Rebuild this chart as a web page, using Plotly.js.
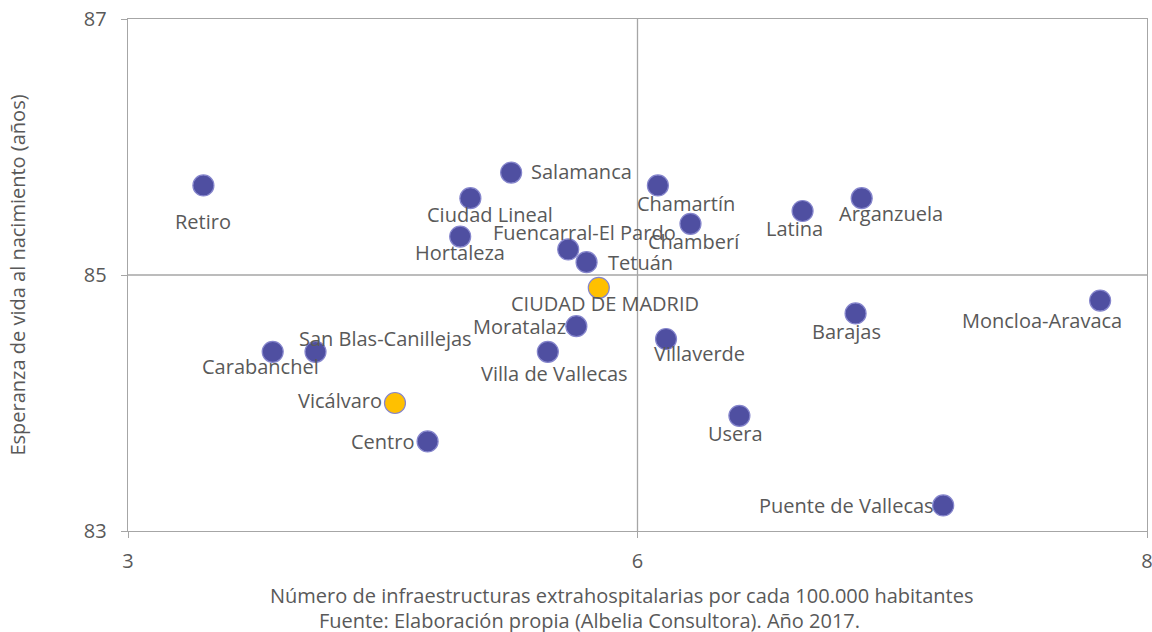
<!DOCTYPE html>
<html>
<head>
<meta charset="utf-8">
<script src="https://cdn.plot.ly/plotly-3.0.1.min.js"></script>
<style>html,body{margin:0;padding:0;background:#fff;}#chart{width:1152px;height:632px;}</style>
</head>
<body>
<div id="chart"></div>
<script>
// ---- data ----
const districts = ["Retiro","Salamanca","Ciudad Lineal","Hortaleza","Fuencarral-El Pardo","Tetuán","CIUDAD DE MADRID","Chamartín","Chamberí","Latina","Arganzuela","Moratalaz","Villa de Vallecas","Villaverde","Barajas","Moncloa-Aravaca","San Blas-Canillejas","Carabanchel","Vicálvaro","Centro","Usera","Puente de Vallecas"];
const infraestructuras = [3.37,4.88,4.68,4.63,5.16,5.25,5.31,5.60,5.76,6.31,6.60,5.20,5.06,5.64,6.57,7.77,3.92,3.71,4.31,4.47,6.00,7.00];
const esperanzaVida = [85.7,85.8,85.6,85.3,85.2,85.1,84.9,85.7,85.4,85.5,85.6,84.6,84.4,84.5,84.7,84.8,84.4,84.4,84.0,83.7,83.9,83.2];
const highlighted = ["CIUDAD DE MADRID","Vicálvaro"];
const xTickVals = [3, 5.5, 8];
const yTickVals = [83, 85, 87];
const xTitle = "Número de infraestructuras extrahospitalarias por cada 100.000 habitantes";
const sourceNote = "Fuente: Elaboración propia (Albelia Consultora). Año 2017.";
const yTitle = "Esperanza de vida al nacimiento (años)";

// ---- label placement (style) ----
const labelAnchor = ["center","left","center","center","center","left","center","center","center","center","center","right","center","center","center","center","center","center","right","right","center","right"];
const labelDx = [0,19,20,0,16,20,6,28,4,-8,29,-9,7,33,-9,-58,70,-12,-12,-13,-4,-8];
const labelDy = [36,-1,16,16,-17,0,16,18,18,17,15,0,22,14,18,20,-13,15,-3,0,18,0];

const FONT = "'Open Sans', Roboto, sans-serif";
const FS = 20;
const TXT = "#595959";
const AX = "#a6a6a6";

const colors = districts.map(d => highlighted.includes(d) ? "#FFC000" : "#4F4FA1");

const trace = {
  type: "scatter", mode: "markers",
  x: infraestructuras, y: esperanzaVida, text: districts,
  marker: {size: 21, color: colors, line: {color: "#8585CC", width: 1.2}},
  hoverinfo: "text+x+y", showlegend: false
};

const annotations = districts.map((d, i) => ({
  x: infraestructuras[i], y: esperanzaVida[i], xref: "x", yref: "y",
  text: d, showarrow: false, xanchor: labelAnchor[i], yanchor: "middle",
  xshift: labelDx[i], yshift: -labelDy[i], borderpad: 0,
  font: {family: FONT, size: FS, color: TXT}
}));
annotations.push({
  xref: "paper", yref: "paper", x: 0.484, y: -0.125, xanchor: "center", yanchor: "middle",
  text: xTitle, showarrow: false, borderpad: 0, height: 24, font: {family: FONT, size: FS, color: TXT}
});
annotations.push({
  xref: "paper", yref: "paper", x: 0.453, y: -0.173, xanchor: "center", yanchor: "middle",
  text: sourceNote, showarrow: false, borderpad: 0, height: 24, font: {family: FONT, size: FS, color: TXT}
});

const layout = {
  width: 1152, height: 632,
  margin: {l: 128, r: 5, t: 19, b: 101},
  paper_bgcolor: "#fff", plot_bgcolor: "#fff",
  font: {family: FONT, size: FS, color: TXT},
  xaxis: {
    range: [3, 8], tickmode: "array", tickvals: xTickVals, tickformat: ".0f",
    ticklabeloverflow: "allow", ticklabelstandoff: 6,
    showgrid: false, zeroline: false, showline: true, linecolor: AX, linewidth: 1.3, mirror: true,
    ticks: "outside", ticklen: 6, tickcolor: AX, tickfont: {family: FONT, size: FS, color: TXT}
  },
  yaxis: {
    range: [83, 87], tickmode: "array", tickvals: yTickVals, tickformat: ".0f",
    ticklabelstandoff: 10,
    showgrid: false, zeroline: false, showline: true, linecolor: AX, linewidth: 1.3, mirror: true,
    ticks: "outside", ticklen: 6, tickcolor: AX, tickfont: {family: FONT, size: FS, color: TXT},
    title: {text: yTitle, font: {family: FONT, size: FS, color: TXT}, standoff: 52}
  },
  shapes: [
    {type: "line", xref: "x", yref: "paper", x0: 5.5, x1: 5.5, y0: 0, y1: 1, line: {color: AX, width: 1.3}, layer: "below"},
    {type: "line", xref: "paper", yref: "y", x0: 0, x1: 1, y0: 85, y1: 85, line: {color: AX, width: 1.3}, layer: "below"}
  ],
  annotations: annotations
};

Plotly.newPlot("chart", [trace], layout, {displayModeBar: false, staticPlot: true});
</script>
</body>
</html>
